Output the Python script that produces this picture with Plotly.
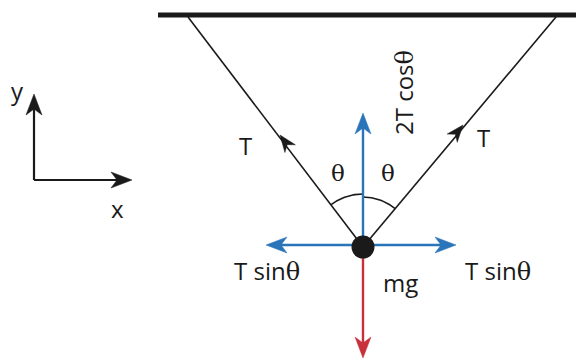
import numpy as np
import plotly.graph_objects as go

W, H = 584, 360
PAD = 8  # page body margin, so data coords = page pixels

# geometry (pixel coordinates, y grows downward)
ceiling_x = [158, 584]
ceiling_y = [15, 15]
node = (363, 247)
string_left_top = (188, 17)
string_right_top = (556, 17)
string_left_arrow = (280, 135)
string_right_arrow = (463, 125)

# force arrows: (tail, tip, colour)
black = "#1a1a1a"
blue = "#2a74b9"
red = "#c8303c"
forces = [
    ((363, 245), (363, 113), blue),
    ((363, 245), (266, 245), blue),
    ((363, 245), (456, 245), blue),
    ((363, 247), (363, 358), red),
]
axis_origin = (34, 180)
axis_tips = [(34, 94), (132, 180)]

# angle arcs: radius, angle from vertical (deg)
arc_left = (53, -37)
arc_right = (50, 40)

# labels: text, x, y, size, rotation
theta = "<span style='font-family:DejaVu Serif'>θ</span>"
labels = [
    ("T", 245, 145, 24, 0),
    ("T", 483, 137, 24, 0),
    (theta, 338, 173, 23, 0),
    (theta, 388, 173, 23, 0),
    ("2T cos" + theta, 403, 93, 24, -90),
    ("T sin" + theta, 267, 270, 24, 0),
    ("T sin" + theta, 498, 270, 24, 0),
    ("mg", 400, 282, 24, 0),
    ("y", 17, 90, 24, 0),
    ("x", 117, 208, 24, 0),
]


def head(tail, tip, length, half, notch):
    """Barbed arrowhead pointing from tail to tip; returns (xs, ys, notch point)."""
    d = np.array([tip[0] - tail[0], tip[1] - tail[1]], float)
    d /= np.hypot(*d)
    p = np.array([-d[1], d[0]])
    t = np.array(tip, float)
    base = t - d * length
    a = base + p * half
    b = base - p * half
    n = t - d * (length - notch)
    pts = [t, a, n, b, t]
    return [q[0] for q in pts], [q[1] for q in pts], n


def add_head(fig, xs, ys, col):
    fig.add_trace(go.Scatter(x=xs, y=ys, mode="lines", fill="toself", fillcolor=col,
                             line=dict(color=col, width=0.5)))


fig = go.Figure()

fig.add_trace(go.Scatter(x=ceiling_x, y=ceiling_y, mode="lines",
                         line=dict(color=black, width=5)))
for top in (string_left_top, string_right_top):
    fig.add_trace(go.Scatter(x=[top[0], node[0]], y=[top[1], node[1]], mode="lines",
                             line=dict(color=black, width=1.6)))

# angle arcs
for r, a in (arc_left, arc_right):
    t = np.radians(np.linspace(0, a, 30))
    fig.add_trace(go.Scatter(x=node[0] + r * np.sin(t), y=node[1] - r * np.cos(t),
                             mode="lines", line=dict(color=black, width=1.6)))

# arrowheads on the strings
for tip in (string_left_arrow, string_right_arrow):
    xs, ys, _ = head(node, tip, 17, 6.5, 5)
    add_head(fig, xs, ys, black)

for tail, tip, col in forces:
    xs, ys, n = head(tail, tip, 21, 8, 6)
    fig.add_trace(go.Scatter(x=[tail[0], n[0]], y=[tail[1], n[1]], mode="lines",
                             line=dict(color=col, width=2.4)))
    add_head(fig, xs, ys, col)

for tip in axis_tips:
    xs, ys, n = head(axis_origin, tip, 21, 8, 6)
    fig.add_trace(go.Scatter(x=[axis_origin[0], n[0]], y=[axis_origin[1], n[1]],
                             mode="lines", line=dict(color=black, width=2.2)))
    add_head(fig, xs, ys, black)

fig.add_trace(go.Scatter(x=[node[0]], y=[node[1]], mode="markers",
                         marker=dict(color=black, size=23)))

annotations = []
for text, x, y, size, rot in labels:
    annotations.append(dict(x=x, y=y, xref="x", yref="y", text=text, showarrow=False,
                            textangle=rot, font=dict(size=size, color=black,
                                                     family="Open Sans")))

fig.update_layout(
    width=W - PAD, height=H - PAD, margin=dict(l=0, r=0, t=0, b=0),
    paper_bgcolor="white", plot_bgcolor="white", showlegend=False,
    annotations=annotations,
    xaxis=dict(range=[PAD, W], visible=False, fixedrange=True),
    yaxis=dict(range=[H, PAD], visible=False, fixedrange=True),
)

fig.write_html("out.html")
